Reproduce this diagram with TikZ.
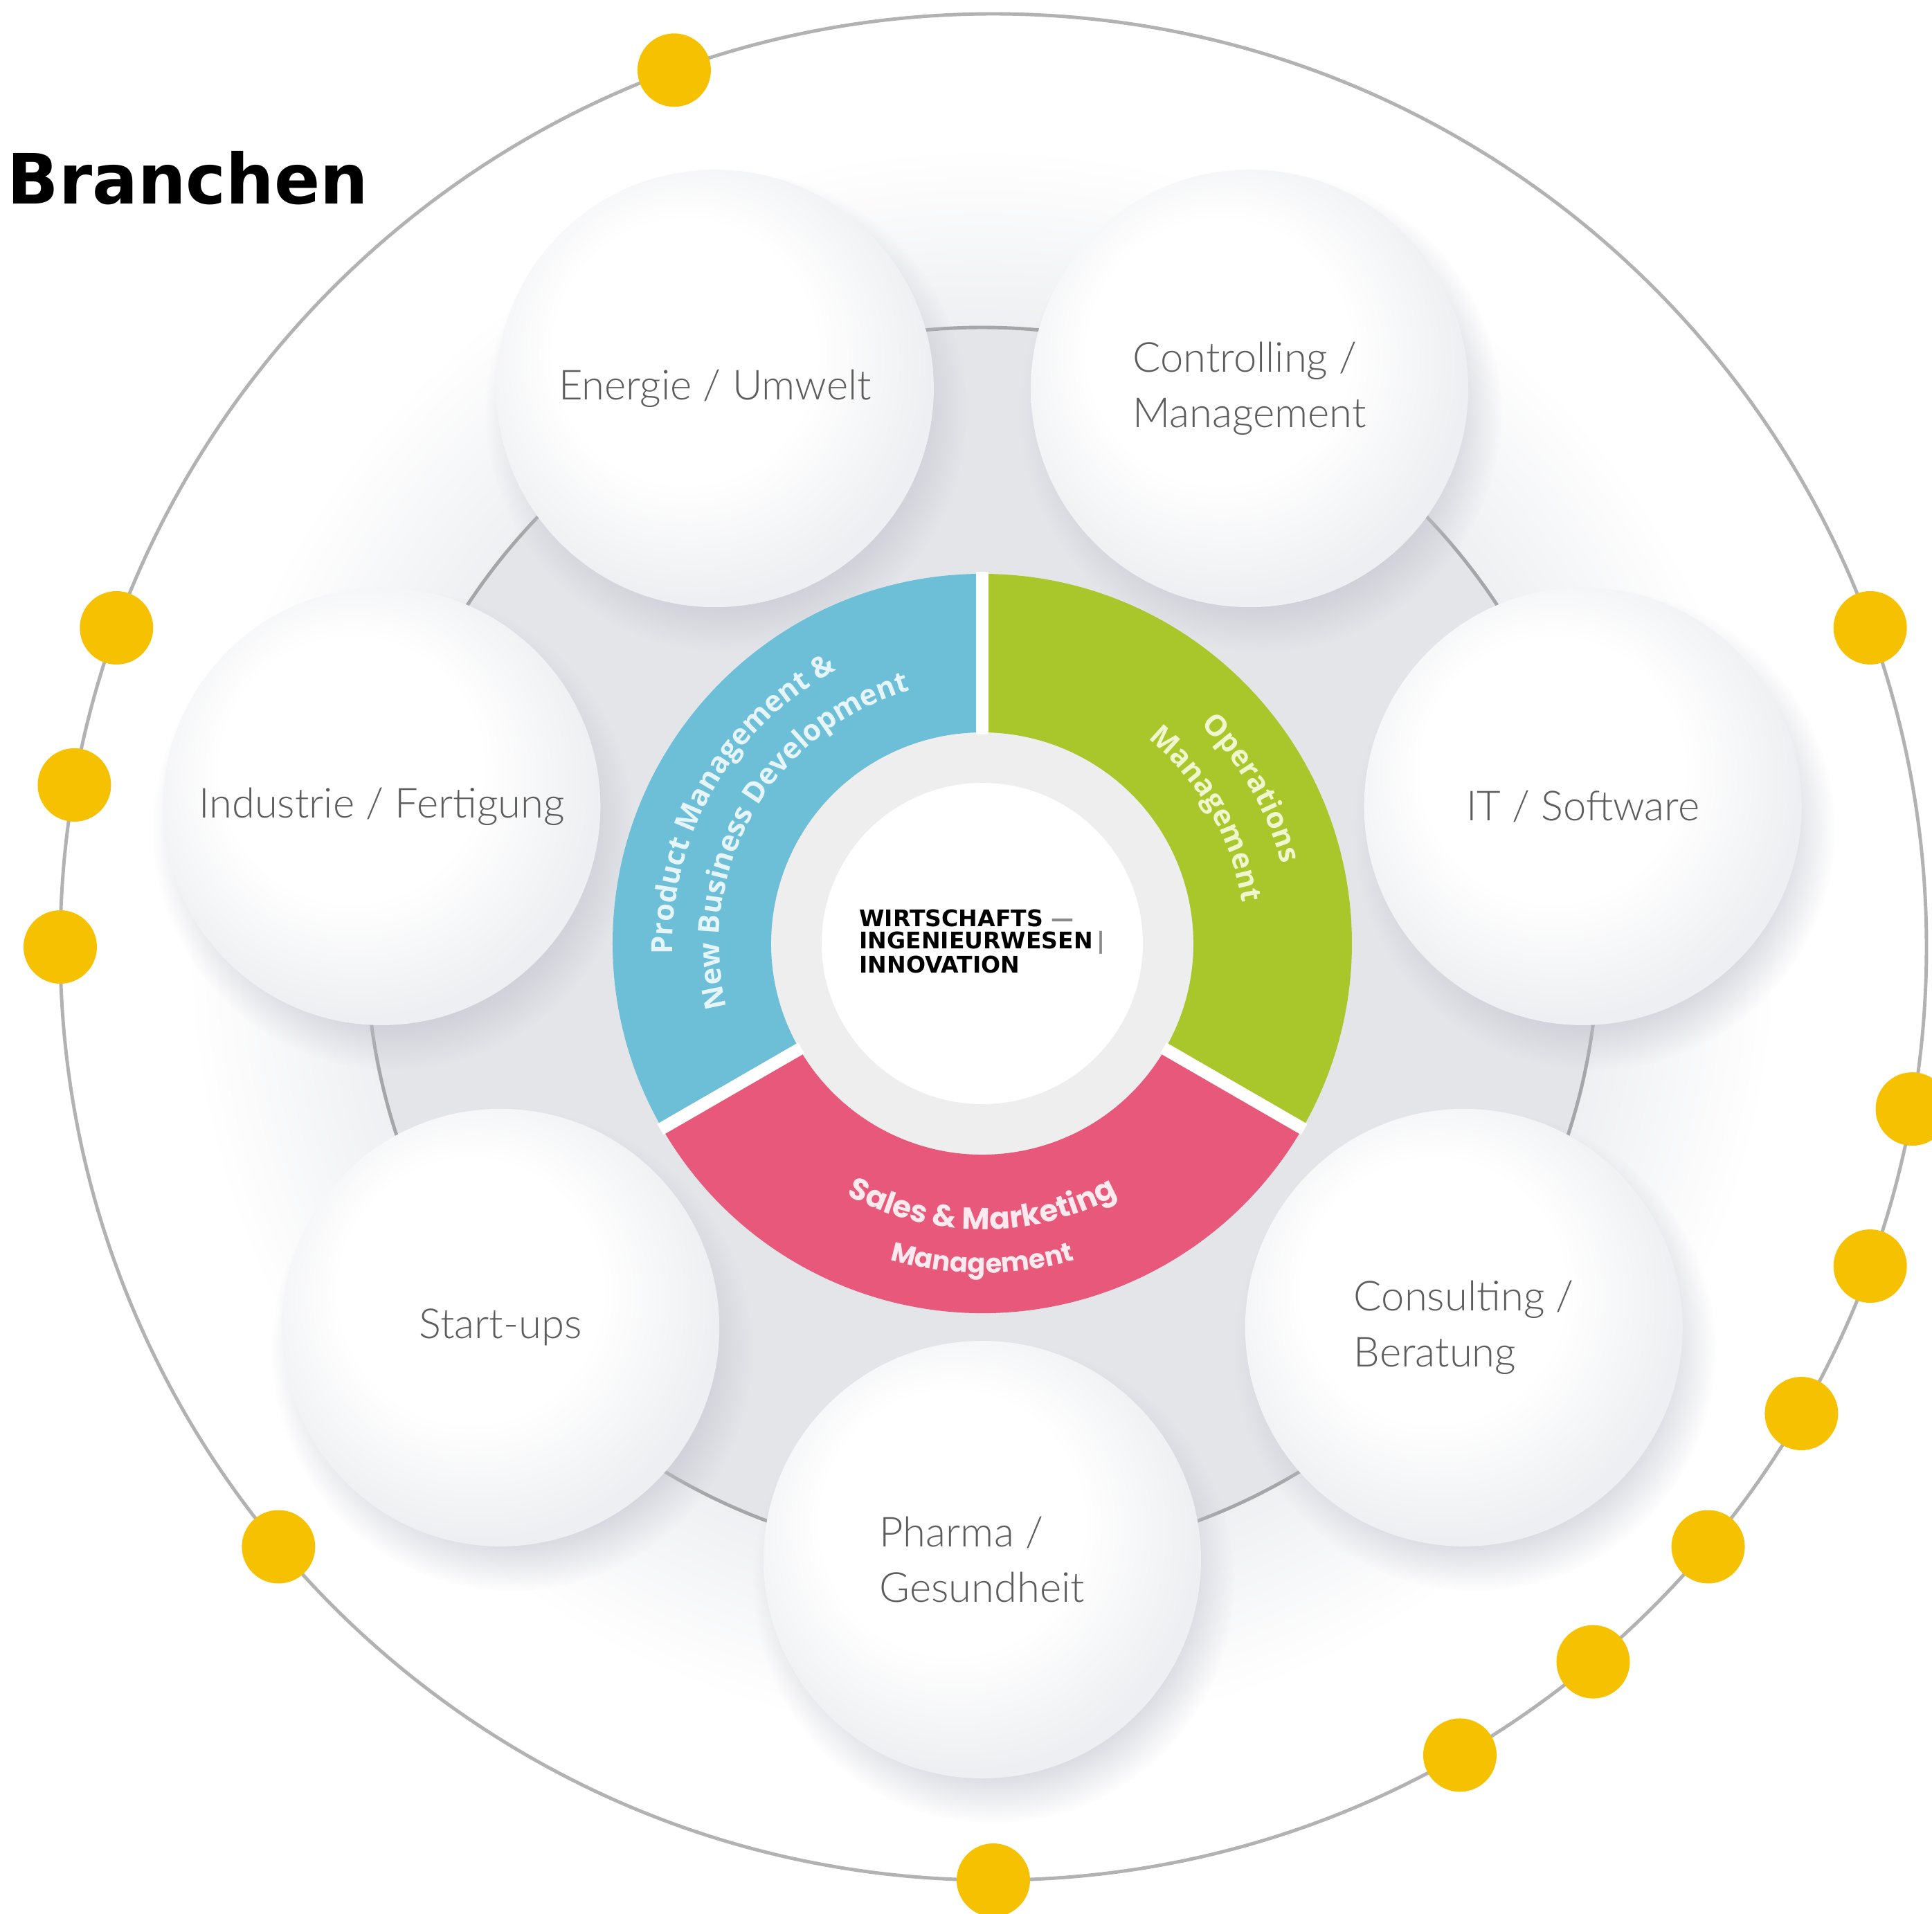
\documentclass[tikz,border=0pt]{standalone}
\usepackage{fontspec}
\usepackage{graphicx}
\usetikzlibrary{calc,shadows,fadings,decorations.text}
\setmainfont{Lato}
\IfFontExistsTF{Lato Light}{\newfontfamily\bubblefont{Lato Light}}{\newfontfamily\bubblefont{Lato}}
\newfontfamily\ringfont{Open Sans}
\newfontfamily\salesfont{Poppins}
\newfontfamily\headfont{DejaVu Sans}

\definecolor{pmblue}{HTML}{6CBFD7}
\definecolor{opgreen}{HTML}{A9C62B}
\definecolor{smpink}{HTML}{E8587A}
\definecolor{pmtext}{HTML}{E6F5F9}
\definecolor{optext}{HTML}{F0F7CF}
\definecolor{smtext}{HTML}{FDEAEF}
\definecolor{dotyellow}{HTML}{F6C100}
\definecolor{rimgray}{HTML}{B2B2B2}
\definecolor{orbitgray}{HTML}{A5A6A8}
\definecolor{discgray}{HTML}{E4E5E9}
\definecolor{hubgray}{HTML}{EEEEEF}
\definecolor{halogray}{HTML}{EEEFF2}
\definecolor{bubbleedge}{HTML}{EEEFF2}
\definecolor{shadowgray}{HTML}{BFC1CC}
\definecolor{bubbletext}{HTML}{5C5C5C}
\definecolor{logogray}{HTML}{8A8A8A}

\pgfdeclareradialshading{halo}{\pgfpoint{0bp}{0bp}}{color(0bp)=(halogray); color(19bp)=(halogray); color(25bp)=(white); color(50bp)=(white)}
\pgfdeclareradialshading{bubbleshade}{\pgfpoint{-5bp}{6bp}}{color(0bp)=(white); color(15bp)=(white); color(27bp)=(bubbleedge); color(50bp)=(bubbleedge)}

\tikzset{
	bubble/.style={circle, minimum size=6.32cm, inner sep=0pt, shading=bubbleshade,
		circular drop shadow={shadow xshift=0.15cm, shadow yshift=-0.3cm, shadow scale=1.1, opacity=0.55, fill=shadowgray, path fading={circle with fuzzy edge 20 percent}},
		align=left, text=bubbletext, font=\bubblefont\fontsize{17}{22.8}\selectfont},
	ydot/.style={circle, fill=dotyellow, minimum size=1.06cm, inner sep=0pt},
	segmentgap/.style={white, line width=0.18cm},
}

\begin{document}
\begin{tikzpicture}
	%%%%% START %%%%%
	
	\fill[white] (-14.19, -14.01) rectangle (13.72, 13.63);
	\useasboundingbox (-14.19, -14.01) rectangle (13.72, 13.63);
	
	\coordinate (hub) at (0, 0);
	\coordinate (rim) at (0.16, -0.05);
	
	\shade[shading=halo] (hub) circle (11.5);
	\draw[line width=1.4pt, color=rimgray] (rim) circle (13.48);
	
	\draw[line width=1.4pt, color=orbitgray, fill=discgray] (hub) circle (8.9);
	
	% bubbles
	\node (energie) [bubble] at (115.71:8.9) {Energie / Umwelt};
	\node (controlling) [bubble] at (64.29:8.9) {Controlling /\\Management};
	\node (itsoft) [bubble] at (12.86:8.9) {IT / Software};
	\node (consulting) [bubble] at (321.43:8.9) {Consulting /\\Beratung};
	\node (pharma) [bubble] at (270:8.9) {Pharma /\\Gesundheit};
	\node (startups) [bubble] at (218.57:8.9) {Start-ups};
	\node (industrie) [bubble] at (167.14:8.9) {Industrie / Fertigung};
	
	% ring
	\fill[hubgray] (hub) circle (3.05);
	\fill[white] (hub) circle (2.32);
	\fill[pmblue] (90:5.34) arc (90:210:5.34) -- (210:3.05) arc (210:90:3.05) -- cycle;
	\fill[opgreen] (90:5.34) arc (90:-30:5.34) -- (-30:3.05) arc (-30:90:3.05) -- cycle;
	\fill[smpink] (210:5.34) arc (210:330:5.34) -- (330:3.05) arc (330:210:3.05) -- cycle;
	\draw[segmentgap] (90:3.02) -- (90:5.37);
	\draw[segmentgap] (210:3.02) -- (210:5.37);
	\draw[segmentgap] (330:3.02) -- (330:5.37);
	
	\path[decorate, decoration={text along path, text align=center, text color=pmtext,
		text={|\ringfont\bfseries\fontsize{12}{12}\selectfont|Product Management {\&}}}] (210:4.47) arc (210:90:4.47);
	\path[decorate, decoration={text along path, text align=center, text color=pmtext,
		text={|\ringfont\bfseries\fontsize{12}{12}\selectfont|New Business Development}}] (210:3.80) arc (210:90:3.80);
	\path[decorate, decoration={text along path, text align=center, text color=optext,
		text={|\ringfont\bfseries\fontsize{12}{12}\selectfont|Operations}}] (90:4.47) arc (90:-30:4.47);
	\path[decorate, decoration={text along path, text align=center, text color=optext,
		text={|\ringfont\bfseries\fontsize{12}{12}\selectfont|Management}}] (90:3.80) arc (90:-30:3.80);
	\path[decorate, decoration={text along path, text align=center, text color=smtext,
		text={|\salesfont\bfseries\fontsize{12.5}{12.5}\selectfont|Sales {\&} Marketing}}] (210:4.13) arc (210:330:4.13);
	\path[decorate, decoration={text along path, text align=center, text color=smtext,
		text={|\salesfont\bfseries\fontsize{11}{11}\selectfont|Management}}] (210:4.76) arc (210:330:4.76);
	
	\node (logo) [align=left, inner sep=0pt, font=\headfont\bfseries\fontsize{9.4}{9.1}\selectfont] at (0, 0.03)
		{WIRTSCHAFTS {\color{logogray}—}\\INGENIEURWESEN\,{\color{logogray}|}\\INNOVATION};
	
	% dots on the rim
	\node (y020) [ydot] at ($(rim)+(20:13.48)$) {};
	\node (y110) [ydot] at ($(rim)+(110:13.48)$) {};
	\node (y160) [ydot] at ($(rim)+(160:13.48)$) {};
	\node (y170) [ydot] at ($(rim)+(170:13.48)$) {};
	\node (y180) [ydot] at ($(rim)+(180:13.48)$) {};
	\node (y220) [ydot] at ($(rim)+(220:13.48)$) {};
	\node (y270) [ydot] at ($(rim)+(270:13.48)$) {};
	\node (y300) [ydot] at ($(rim)+(300:13.48)$) {};
	\node (y310) [ydot] at ($(rim)+(310:13.48)$) {};
	\node (y320) [ydot] at ($(rim)+(320:13.48)$) {};
	\node (y330) [ydot] at ($(rim)+(330:13.48)$) {};
	\node (y340) [ydot] at ($(rim)+(340:13.48)$) {};
	\node (y350) [ydot] at ($(rim)+(350:13.48)$) {};
	
	\node (title) [anchor=base west, inner sep=0pt, font=\headfont\bfseries\fontsize{28.5}{30}\selectfont] at (-14.09, 10.69)
		{\scalebox{0.975}[1]{Branchen}};
	
	%%%%% END %%%%%
\end{tikzpicture}
\end{document}
